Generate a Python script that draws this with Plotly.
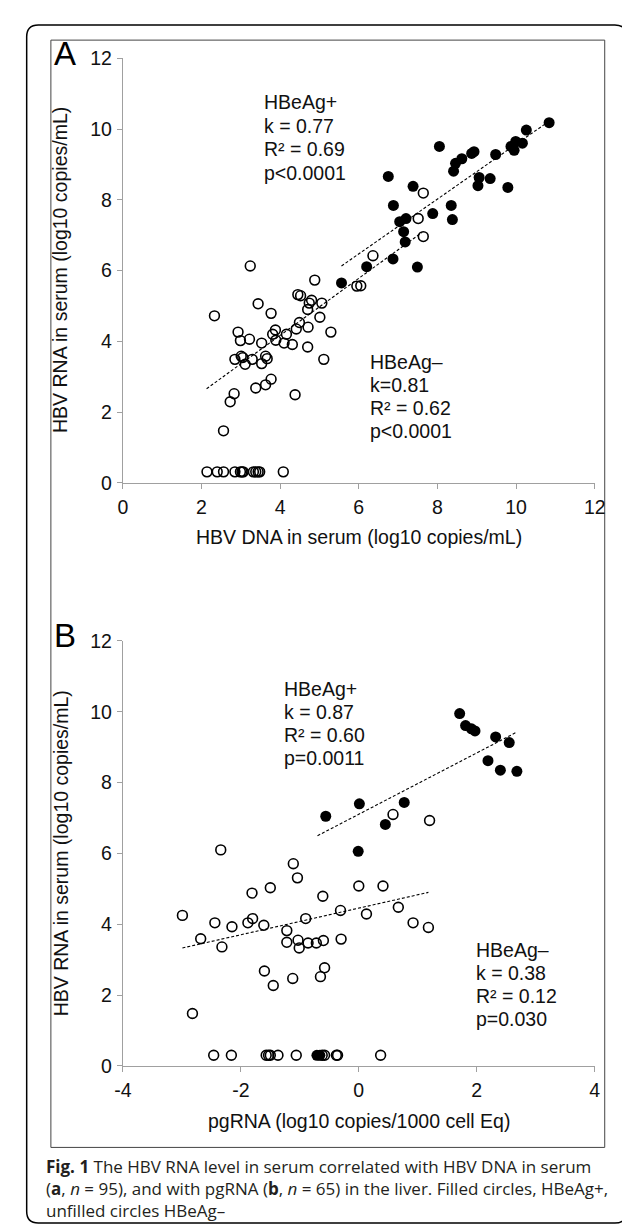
import plotly.graph_objects as go

W, H = 630, 1228

# ---------------- Panel A data (HBV DNA vs HBV RNA in serum) ----------------
a_pos_x = [10.84, 10.26, 10.16, 9.99, 9.91, 9.95, 9.87, 9.48, 8.05, 8.93, 8.87, 8.62, 8.46, 8.41,
           6.75, 9.06, 9.34, 9.03, 9.79, 7.38, 6.88, 8.35, 7.88, 7.20, 7.04, 8.38, 7.14, 7.18,
           6.87, 6.20, 7.49, 5.56]
a_pos_y = [10.18, 9.97, 9.60, 9.65, 9.51, 9.40, 9.51, 9.28, 9.51, 9.36, 9.31, 9.16, 9.03, 8.81,
           8.66, 8.63, 8.60, 8.40, 8.35, 8.38, 7.84, 7.84, 7.61, 7.47, 7.38, 7.44, 7.10, 6.81,
           6.33, 6.11, 6.10, 5.65]
a_neg_x = [3.24, 7.64, 7.51, 7.64, 6.36, 5.95, 6.05, 4.88, 4.45, 4.52, 4.74, 4.80, 5.06, 3.44,
           4.70, 5.01, 3.77, 2.33, 4.49, 4.41, 4.71, 5.29, 2.93, 3.88, 3.81, 4.16, 3.22, 2.99,
           3.89, 4.10, 4.31, 3.53, 4.70, 3.01, 3.05, 2.85, 3.29, 3.63, 3.67, 3.11, 3.53, 5.11,
           3.77, 3.63, 3.38, 4.38, 2.83, 2.73, 2.56,
           2.14, 2.40, 2.56, 2.85, 2.99, 3.03, 3.06, 3.32, 3.38, 3.44, 3.48, 4.08]
a_neg_y = [6.13, 8.19, 7.47, 6.96, 6.42, 5.56, 5.57, 5.73, 5.32, 5.29, 5.08, 5.16, 5.08, 5.06,
           4.90, 4.68, 4.79, 4.72, 4.53, 4.35, 4.40, 4.26, 4.26, 4.32, 4.20, 4.20, 4.06, 4.02,
           4.03, 3.95, 3.91, 3.95, 3.84, 3.58, 3.54, 3.49, 3.49, 3.58, 3.51, 3.35, 3.37, 3.49,
           2.93, 2.77, 2.68, 2.49, 2.52, 2.29, 1.47,
           0.31, 0.31, 0.31, 0.31, 0.31, 0.31, 0.31, 0.31, 0.31, 0.31, 0.31, 0.31]
a_fit_pos_x = [5.56, 10.85]
a_fit_pos_y = [6.13, 10.23]
a_fit_neg_x = [2.13, 7.61]
a_fit_neg_y = [2.66, 7.08]
a_ticks = [0, 2, 4, 6, 8, 10, 12]
a_ticktext = ["0", "2", "4", "6", "8", "10", "12"]

# ---------------- Panel B data (pgRNA vs HBV RNA in serum) ----------------
b_pos_x = [1.71, 1.81, 1.91, 1.97, 2.32, 2.55, 2.19, 2.40, 2.68, 0.77, 0.01, 0.45, -0.56, -0.01,
           -0.71, -0.66]
b_pos_y = [9.95, 9.61, 9.52, 9.46, 9.29, 9.13, 8.62, 8.35, 8.32, 7.44, 7.40, 6.82, 7.05, 6.06,
           0.30, 0.30]
b_neg_x = [0.58, 1.20, 0.00, 0.41, 0.13, 0.67, 0.92, 1.18,
           -2.34, -1.11, -1.04, -1.50, -1.81, -0.61, -0.31, -2.99, -2.44, -2.15, -1.88, -1.80,
           -1.61, -1.22, -0.90, -2.68, -2.32, -1.22, -1.03, -1.01, -0.86, -0.72, -0.60, -0.30,
           -1.60, -0.58, -0.65, -1.12, -1.45, -2.82,
           -2.46, -2.16, -1.57, -1.53, -1.50, -1.37, -1.06, -0.62, -0.58, -0.38, -0.36, 0.37]
b_neg_y = [7.10, 6.93, 5.08, 5.08, 4.29, 4.48, 4.04, 3.91,
           6.10, 5.71, 5.31, 5.03, 4.88, 4.79, 4.39, 4.25, 4.04, 3.93, 4.04, 4.16,
           3.97, 3.82, 4.16, 3.59, 3.36, 3.49, 3.55, 3.33, 3.47, 3.47, 3.54, 3.58,
           2.68, 2.77, 2.52, 2.47, 2.27, 1.48,
           0.30, 0.30, 0.30, 0.30, 0.30, 0.30, 0.30, 0.30, 0.30, 0.30, 0.30, 0.30]
b_fit_pos_x = [-0.70, 2.66]
b_fit_pos_y = [6.50, 9.41]
b_fit_neg_x = [-2.99, 1.18]
b_fit_neg_y = [3.33, 4.90]
b_xticks = [-4, -2, 0, 2, 4]
b_xticktext = ["-4", "-2", "0", "2", "4"]

# ---------------- Text ----------------
a_stats_pos = ["HBeAg+", "k = 0.77", "R² = 0.69", "p<0.0001"]
a_stats_neg = ["HBeAg–", "k=0.81", "R² = 0.62", "p<0.0001"]
b_stats_pos = ["HBeAg+", "k = 0.87", "R² = 0.60", "p=0.0011"]
b_stats_neg = ["HBeAg–", "k = 0.38", "R² = 0.12", "p=0.030"]
y_title = "HBV RNA in serum (log10 copies/mL)"
a_x_title = "HBV DNA in serum (log10 copies/mL)"
b_x_title = "pgRNA (log10 copies/1000 cell Eq)"
caption_lines = [
    "<b>Fig. 1</b> The HBV RNA level in serum correlated with HBV DNA in serum",
    "(<b>a</b>, <i>n</i> = 95), and with pgRNA (<b>b</b>, <i>n</i> = 65) in the liver. Filled circles, HBeAg+,",
    "unfilled circles HBeAg–",
]


def PX(x):
    return x / W


def PY(y):
    return 1 - y / H


CHART_FONT = "Liberation Sans, Arial, sans-serif"
FS = 19.5

fig = go.Figure()

open_marker = dict(symbol="circle-open", size=9.8, color="black", line=dict(width=1.6, color="black"))
fill_marker = dict(symbol="circle", size=11, color="black", line=dict(width=0))
dash_line = dict(color="black", width=1.1, dash="3px,2px")

for xa, ya, nx, ny, px_, py_, fnx, fny, fpx, fpy in [
    ("x", "y", a_neg_x, a_neg_y, a_pos_x, a_pos_y, a_fit_neg_x, a_fit_neg_y, a_fit_pos_x, a_fit_pos_y),
    ("x2", "y2", b_neg_x, b_neg_y, b_pos_x, b_pos_y, b_fit_neg_x, b_fit_neg_y, b_fit_pos_x, b_fit_pos_y),
]:
    fig.add_trace(go.Scatter(x=fnx, y=fny, mode="lines", line=dash_line, xaxis=xa, yaxis=ya,
                             showlegend=False, hoverinfo="skip"))
    fig.add_trace(go.Scatter(x=fpx, y=fpy, mode="lines", line=dash_line, xaxis=xa, yaxis=ya,
                             showlegend=False, hoverinfo="skip"))
    fig.add_trace(go.Scatter(x=nx, y=ny, mode="markers", marker=open_marker, xaxis=xa, yaxis=ya,
                             showlegend=False))
    fig.add_trace(go.Scatter(x=px_, y=py_, mode="markers", marker=fill_marker, xaxis=xa, yaxis=ya,
                             showlegend=False))

axis_common = dict(showgrid=False, zeroline=False, showline=True, linecolor="#a0a0a0", linewidth=1,
                   ticks="outside", ticklen=5, tickcolor="#a0a0a0", tickwidth=1,
                   tickfont=dict(family=CHART_FONT, size=FS, color="#111"), fixedrange=True)

xdom = [PX(109.3), PX(596.7)]
fig.update_layout(
    width=W, height=H, margin=dict(l=0, r=0, t=0, b=0),
    paper_bgcolor="white", plot_bgcolor="white", showlegend=False,
    xaxis=dict(domain=xdom, range=[0, 12], tickvals=a_ticks, ticktext=a_ticktext, anchor="y",
               ticklabelstandoff=2, **axis_common),
    yaxis=dict(domain=[PY(472.3), PY(40)], range=[0, 12], tickvals=a_ticks, ticktext=a_ticktext,
               anchor="x", ticklabelstandoff=1, **axis_common),
    xaxis2=dict(domain=xdom, range=[-4, 4], tickvals=b_xticks, ticktext=b_xticktext, anchor="y2",
                ticklabelstandoff=2, **axis_common),
    yaxis2=dict(domain=[PY(1066), PY(633.3)], range=[0, 12], tickvals=a_ticks, ticktext=a_ticktext,
                anchor="x2", ticklabelstandoff=1, **axis_common),
)

ann = []


def text(x, y, s, size=FS, family=CHART_FONT, xanchor="left", angle=0, color="#111", align="left"):
    ann.append(dict(x=PX(x), y=PY(y), xref="paper", yref="paper", text=s, showarrow=False,
                    xanchor=xanchor, yanchor="middle", textangle=angle, align=align,
                    font=dict(family=family, size=size, color=color)))


for lines, x0, ys in [
    (a_stats_pos, 253, [85, 108.5, 132.5, 156.5]),
    (a_stats_neg, 363, [349.5, 373, 396.5, 420]),
    (b_stats_pos, 274, [682, 705.5, 729, 752.5]),
    (b_stats_neg, 472, [948, 971.5, 995, 1018.5]),
]:
    for s, yy in zip(lines, ys):
        text(x0, yy, s)

text(353, 527, a_x_title, xanchor="center")
text(353, 1122, b_x_title, xanchor="center")
text(45, 256, y_title, xanchor="center", angle=-90)
text(45, 850, y_title, xanchor="center", angle=-90)
text(36, 35, "A", size=33, xanchor="left", color="black")
text(36, 628, "B", size=33, xanchor="left", color="black")

CAP_FONT = "Open Sans, sans-serif"
text(28, 1191, "<br>".join(caption_lines), size=17, family=CAP_FONT, color="#231f20")

fig.update_layout(annotations=ann)

# frames
r = 12
L, T, R, B = 10, 6, 629.5, 1226
frame_path = (f"M {PX(L + r)},{PY(T)} L {PX(R - r)},{PY(T)} Q {PX(R)},{PY(T)} {PX(R)},{PY(T + r)} "
              f"L {PX(R)},{PY(B - r)} Q {PX(R)},{PY(B)} {PX(R - r)},{PY(B)} "
              f"L {PX(L + r)},{PY(B)} Q {PX(L)},{PY(B)} {PX(L)},{PY(B - r)} "
              f"L {PX(L)},{PY(T + r)} Q {PX(L)},{PY(T)} {PX(L + r)},{PY(T)} Z")
fig.add_shape(type="path", path=frame_path, xref="paper", yref="paper",
              line=dict(color="black", width=1.5), layer="below")
fig.add_shape(type="rect", x0=PX(35), x1=PX(607), y0=PY(1149), y1=PY(21.5), xref="paper", yref="paper",
              line=dict(color="#444", width=1), layer="below")

fig.write_html("out.html")
